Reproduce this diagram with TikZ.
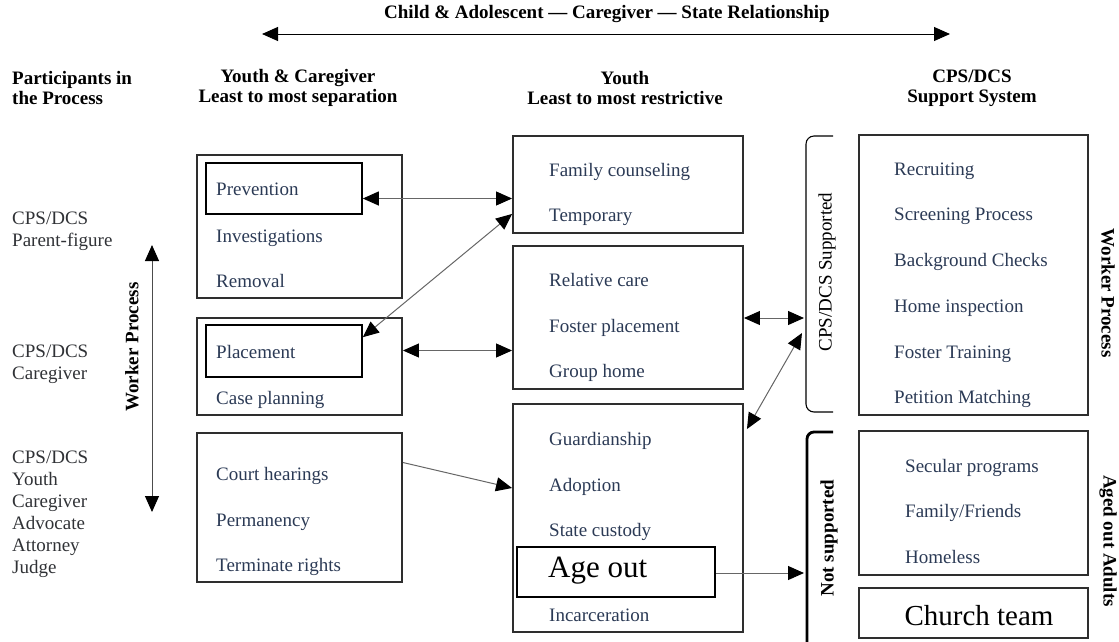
\documentclass[tikz,border=0pt]{standalone}
\usepackage{fontspec}
\setmainfont{Liberation Serif}
\usetikzlibrary{arrows.meta,calc}
\definecolor{boxtext}{HTML}{2B3A55}
\definecolor{parttext}{HTML}{303236}
\definecolor{framecol}{HTML}{2E2E2E}
\begin{document}
\begin{tikzpicture}[x=1pt,y=-1pt,
  >={Triangle[length=16pt,width=14pt,color=black]},
  frame/.style={draw=framecol,line width=1.9pt,inner sep=0pt,fill=white},
  inner/.style={draw=black,line width=1.6pt,inner sep=0pt},
  item/.style={anchor=base west,inner sep=0pt,text=boxtext,font=\fontsize{19}{22}\selectfont},
  part/.style={anchor=west,inner sep=0pt,align=left,text=parttext,font=\fontsize{19}{22}\selectfont},
  head/.style={inner sep=0pt,align=center,font=\bfseries\fontsize{19}{20}\selectfont},
  sidelabel/.style={inner sep=0pt,font=\bfseries\fontsize{19}{20}\selectfont},
  link/.style={draw=black!60,line width=1pt},
  big/.style={inner sep=0pt,font=\fontsize{31}{34}\selectfont}]
\useasboundingbox (0,0) rectangle (1119,641);

% ---- title and top relationship arrow
\node[head] (title) at (607,14) {Child \& Adolescent --- Caregiver --- State Relationship};
\coordinate (topL) at (262,34);
\coordinate (topR) at (950,34);
\draw[<->,line width=1pt] (topL) -- (topR);

% ---- column headings
\node[head,anchor=west,align=left] (hpart) at (12,88) {Participants in\\the Process};
\node[head] (hyc) at (298,88) {Youth \& Caregiver\\Least to most separation};
\node[head] (hy) at (625,88) {Youth\\Least to most restrictive};
\node[head] (hcps) at (972,88) {CPS/DCS\\Support System};

% ---- participants
\node[part] (p1) at (12,231) {CPS/DCS\\Parent-figure};
\node[part] (p2) at (12,364) {CPS/DCS\\Caregiver};
\node[part] (p3) at (12,514) {CPS/DCS\\Youth\\Caregiver\\Advocate\\Attorney\\Judge};

% ---- worker process arrow (left)
\coordinate (wpTop) at (152,245);
\coordinate (wpBot) at (152,512);
\draw[<->,line width=1pt,draw=black!70] (wpTop) -- (wpBot);
\node[sidelabel,rotate=90] (wpL) at (132,347) {Worker Process};

% ---- youth & caregiver column
\node[frame,minimum width=205pt,minimum height=143pt] (boxA) at (299.5,226.5) {};
\node[inner,minimum width=156pt,minimum height=51pt] (prev) at (284,188.5) {};
\node[item] (tPrev) at (216,195) {Prevention};
\node[item] (tInv) at (216,242) {Investigations};
\node[item] (tRem) at (216,287) {Removal};

\node[frame,minimum width=205pt,minimum height=97pt] (boxB) at (299.5,366.5) {};
\node[inner,minimum width=156pt,minimum height=52pt] (plac) at (284,351) {};
\node[item] (tPlac) at (216,358) {Placement};
\node[item] (tCase) at (216,404) {Case planning};

\node[frame,minimum width=205pt,minimum height=149pt] (boxC) at (299.5,507.5) {};
\node[item] (tCourt) at (216,480) {Court hearings};
\node[item] (tPerm) at (216,526) {Permanency};
\node[item] (tTerm) at (216,571) {Terminate rights};

% ---- youth column
\node[frame,minimum width=230pt,minimum height=97pt] (boxD) at (628,184.5) {};
\node[item] (tFam) at (549,176) {Family counseling};
\node[item] (tTemp) at (549,221) {Temporary};

\node[frame,minimum width=230pt,minimum height=143pt] (boxE) at (628,317.5) {};
\node[item] (tRel) at (549,286) {Relative care};
\node[item] (tFos) at (549,332) {Foster placement};
\node[item] (tGrp) at (549,377) {Group home};

\node[frame,minimum width=230pt,minimum height=228pt] (boxF) at (628,518) {};
\node[item] (tGua) at (549,445) {Guardianship};
\node[item] (tAdo) at (549,491) {Adoption};
\node[item] (tSta) at (549,536) {State custody};
\node[inner,minimum width=198pt,minimum height=50pt] (ageout) at (616,572) {};
\node[big,anchor=base west] (tAge) at (548,577) {Age out};
\node[item] (tInc) at (549,621) {Incarceration};

% ---- brackets
\draw[line width=1.1pt,rounded corners=8pt] (833,136) -- (806,136) -- (806,412) -- (833,412);
\node[inner sep=0pt,rotate=90,font=\fontsize{19}{20}\selectfont] (lSup) at (827,272) {CPS/DCS Supported};
\coordinate (supA) at (804,318);
\coordinate (supB) at (802,333);
\draw[line width=2.8pt,rounded corners=7pt] (833,432) -- (807,432) -- (807,660);
\node[sidelabel,rotate=90] (lNot) at (829,538) {Not supported};
\coordinate (notA) at (804,573);

% ---- support system column
\node[frame,minimum width=229pt,minimum height=280pt] (boxG) at (973.5,275) {};
\node[item] (tRec) at (894,175) {Recruiting};
\node[item] (tScr) at (894,220) {Screening Process};
\node[item] (tBack) at (894,266) {Background Checks};
\node[item] (tHome) at (894,312) {Home inspection};
\node[item] (tFT) at (894,358) {Foster Training};
\node[item] (tPet) at (894,403) {Petition Matching};

\node[frame,minimum width=229pt,minimum height=144pt] (boxH) at (973.5,503) {};
\node[item] (tSec) at (905,472) {Secular programs};
\node[item] (tFF) at (905,517) {Family/Friends};
\node[item] (tHl) at (905,563) {Homeless};

\node[frame,minimum width=229pt,minimum height=50pt] (boxI) at (973.5,613) {};
\node[big,anchor=base,font=\fontsize{29}{32}\selectfont] (tChurch) at (979,625) {Church team};

% ---- right side labels
\node[sidelabel,rotate=-90] (wpR) at (1108,293) {Worker Process};
\node[sidelabel,rotate=-90] (aoR) at (1108,541) {Aged out Adults};

% ---- connectors
\draw[link,<->] ($(prev.east)+(0,10)$) -- ($(boxD.west |- prev.east)+(0,10)$);
\draw[link,<->] ($(boxD.south west)+(0,-20)$) -- ($(plac.north east)+(0,13)$);
\draw[link,<->] ($(boxB.east)+(0,-16)$) -- ($(boxE.west |- boxB.east)+(0,-16)$);
\draw[link,<->] (boxE.east |- supA) -- (supA);
\draw[link,<->] ($(boxF.north east)+(3,26)$) -- (supB);
\draw[link,->] ($(boxC.east)+(0,-45)$) -- ($(boxF.west)+(0,-30)$);
\draw[link,->] (ageout.east |- notA) -- (notA);
\end{tikzpicture}
\end{document}
